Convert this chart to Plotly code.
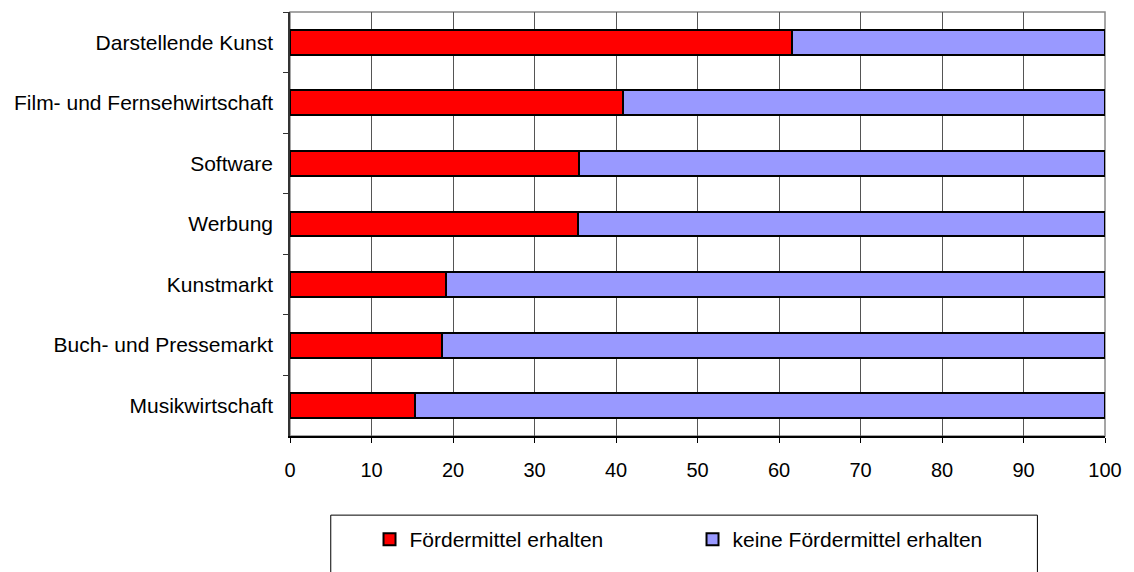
import plotly.graph_objects as go

categories = ["Darstellende Kunst", "Film- und Fernsehwirtschaft", "Software", "Werbung",
              "Kunstmarkt", "Buch- und Pressemarkt", "Musikwirtschaft"]
received = [61.6, 40.9, 35.4, 35.3, 19.2, 18.7, 15.3]
not_received = [100 - v for v in received]
series_names = ["Fördermittel erhalten", "keine Fördermittel erhalten"]
x_ticks = [0, 10, 20, 30, 40, 50, 60, 70, 80, 90, 100]

FONT = "Liberation Sans, Arial, sans-serif"

fig = go.Figure()
fig.add_trace(go.Bar(y=categories, x=received, orientation="h", name=series_names[0],
                     marker=dict(color="#FF0000", line=dict(color="black", width=2))))
fig.add_trace(go.Bar(y=categories, x=not_received, orientation="h", name=series_names[1],
                     marker=dict(color="#9999FF", line=dict(color="black", width=2))))

W, H = 1134, 572
L, R, T, B = 290, 1110, 12, 446
pw, ph = R - L, B - T

def px_x(x):
    return (x - L) / pw

def px_y(y):
    return (B - y) / ph

fig.update_layout(
    width=W, height=H,
    margin=dict(l=L, r=W - R, t=T, b=H - B, pad=0),
    barmode="stack", bargap=0.59,
    plot_bgcolor="white", paper_bgcolor="white",
    font=dict(family=FONT, size=21, color="black"),
    showlegend=True,
    legend=dict(orientation="h", x=px_x(370), y=px_y(552), xanchor="left", yanchor="middle",
                bgcolor="rgba(0,0,0,0)", borderwidth=0, entrywidth=278,
                font=dict(family=FONT, size=21, color="black"), traceorder="normal"),
    xaxis=dict(range=[0, 100], tickvals=x_ticks, ticktext=[str(v) for v in x_ticks],
               showgrid=True, gridcolor="#555555", gridwidth=1, zeroline=False,
               showline=True, linecolor="black", linewidth=1.5,
               ticks="outside", ticklen=5, tickcolor="black",
               tickfont=dict(family=FONT, size=20, color="black"), ticklabelstandoff=10),
    yaxis=dict(autorange="reversed", showgrid=False, zeroline=False,
               showline=True, linecolor="#333333", linewidth=1.5,
               ticks="outside", ticklen=5, tickcolor="#333333", tickson="boundaries",
               tickfont=dict(family=FONT, size=21, color="black"), ticklabelstandoff=11),
    shapes=[
        dict(type="rect", xref="paper", yref="paper", x0=0, x1=1, y0=0, y1=1,
             line=dict(color="#888888", width=1.5), layer="below"),
        dict(type="rect", xref="paper", yref="paper", x0=px_x(331), x1=px_x(1042),
             y0=px_y(527), y1=px_y(600), line=dict(color="black", width=1), layer="above"),
    ],
)

fig.write_html("out.html", config={"displayModeBar": False},
               post_script="document.body.style.margin='0';document.body.style.overflow='hidden';")
